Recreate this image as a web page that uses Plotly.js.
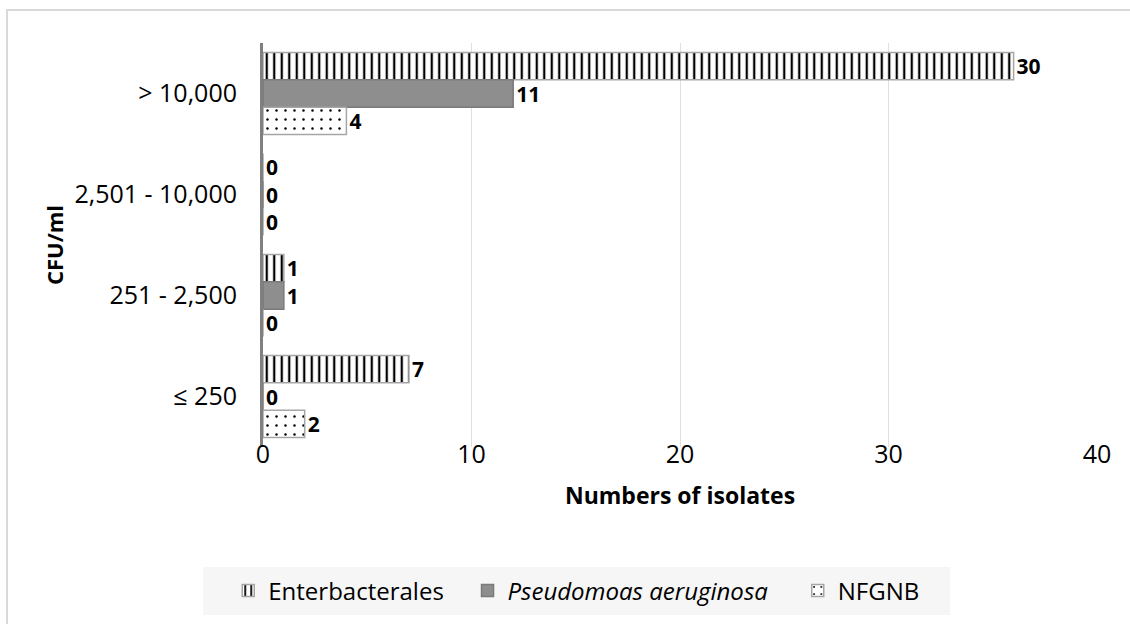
<!DOCTYPE html>
<html>
<head>
<meta charset="utf-8">
<script src="https://cdn.plot.ly/plotly-3.0.1.min.js"></script>
<style>
  html, body { margin: 0; padding: 0; background: #ffffff; overflow: hidden; }
  #chart { width: 1130px; height: 624px; }
</style>
</head>
<body>
<div id="chart"></div>
<script>
// Categories (top to bottom as shown)
const categories = ['> 10,000', '2,501 - 10,000', '251 - 2,500', '\u2264 250'];

// Series names
const seriesNames = ['Enterbacterales', '<i>Pseudomoas aeruginosa</i>', 'NFGNB'];

// Bar lengths as drawn in the picture
const enterValues  = [36, 0, 1, 7];
const pseudoValues = [12, 0, 1, 0];
const nfgnbValues  = [4, 0, 0, 2];

// Data labels as printed in the picture
const enterLabels  = ['30', '0', '1', '7'];
const pseudoLabels = ['11', '0', '1', '0'];
const nfgnbLabels  = ['4', '0', '0', '2'];

const xTicks = [0, 10, 20, 30, 40];

const FONT = '"Open Sans", sans-serif';
const labelFont = { family: FONT, size: 21, color: '#000000', weight: 'bold' };
const NB = '\u00a0';

const traces = [
  {
    type: 'bar', orientation: 'h', name: seriesNames[0] + NB.repeat(3),
    y: categories, x: enterValues, text: enterLabels,
    textposition: 'outside', textfont: labelFont, constraintext: 'none', cliponaxis: false,
    marker: {
      color: '#ffffff',
      line: { color: '#a6a6a6', width: 1.5 },
      pattern: { shape: '|', fgcolor: '#000000', bgcolor: '#ffffff', size: 7.5, solidity: 0.3 }
    },
    hoverinfo: 'x+y'
  },
  {
    type: 'bar', orientation: 'h', name: seriesNames[1] + NB.repeat(4),
    y: categories, x: pseudoValues, text: pseudoLabels,
    textposition: 'outside', textfont: labelFont, constraintext: 'none', cliponaxis: false,
    marker: { color: '#8e8e8e', line: { color: '#7a7a7a', width: 1.5 } },
    hoverinfo: 'x+y'
  },
  {
    type: 'bar', orientation: 'h', name: seriesNames[2],
    y: categories, x: nfgnbValues, text: nfgnbLabels,
    textposition: 'outside', textfont: labelFont, constraintext: 'none', cliponaxis: false,
    marker: {
      color: '#ffffff',
      line: { color: '#a6a6a6', width: 1.5 },
      pattern: { shape: '.', fgcolor: '#000000', bgcolor: '#ffffff', size: 9, solidity: 0.06 }
    },
    hoverinfo: 'x+y'
  }
];

const layout = {
  width: 1130, height: 624,
  paper_bgcolor: '#ffffff', plot_bgcolor: '#ffffff',
  margin: { l: 263, r: 33, t: 43, b: 177, pad: 0 },
  barmode: 'group', bargap: 0.19, bargroupgap: 0,
  showlegend: true,
  font: { family: FONT, color: '#000000' },
  xaxis: {
    range: [0, 40], tickvals: xTicks, ticktext: xTicks.map(String),
    showgrid: true, gridcolor: '#e0e0e0', gridwidth: 1,
    zeroline: false, showline: false, ticks: '',
    ticklabelstandoff: -10,
    tickfont: { family: FONT, size: 25, color: '#000000' },
    title: { text: 'Numbers of isolates', font: { family: FONT, size: 23, color: '#000000', weight: 'bold' }, standoff: 18 },
    fixedrange: true
  },
  yaxis: {
    type: 'category', categoryorder: 'array', categoryarray: categories,
    range: [3.5, -0.5],
    showgrid: false, zeroline: false,
    showline: true, linecolor: '#808080', linewidth: 3,
    ticks: 'outside', ticklen: 18, tickcolor: 'rgba(0,0,0,0)',
    tickfont: { family: FONT, size: 25, color: '#000000' },
    title: { text: 'CFU/ml', font: { family: FONT, size: 22, color: '#000000', weight: 'bold' }, standoff: 5 },
    fixedrange: true
  },
  legend: {
    orientation: 'h', xref: 'container', yref: 'container',
    x: 0.202, xanchor: 'left', y: 0.053, yanchor: 'middle',
    bgcolor: 'rgba(0,0,0,0)', borderwidth: 0,
    font: { family: FONT, size: 24, color: '#000000' },
    traceorder: 'normal', itemclick: false, itemdoubleclick: false
  },
  shapes: [
    {
      type: 'rect', xref: 'paper', yref: 'paper', layer: 'below',
      x0: -0.307, x1: 1.3, y0: -1, y1: 1.0817,
      line: { color: '#d9d9d9', width: 2 }, fillcolor: 'rgba(0,0,0,0)'
    },
    {
      type: 'rect', xref: 'paper', yref: 'paper', layer: 'below',
      x0: -0.072, x1: 0.824, y0: -0.416, y1: -0.297,
      line: { width: 0 }, fillcolor: '#f6f6f6'
    }
  ]
};

Plotly.newPlot('chart', traces, layout, { displayModeBar: false, staticPlot: true });
</script>
</body>
</html>
